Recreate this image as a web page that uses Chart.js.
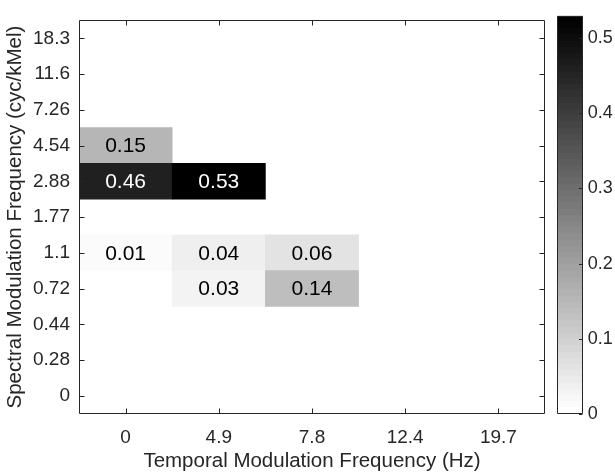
<!DOCTYPE html>
<html><head><meta charset="utf-8">
<script src="https://cdn.jsdelivr.net/npm/chart.js@4.4.1/dist/chart.umd.min.js"></script>
<style>
html,body{margin:0;padding:0;background:#fff;}
#wrap{position:relative;width:615px;height:474px;overflow:hidden;}
canvas{position:absolute;top:0;}
</style>
</head><body>
<div id="wrap">
<canvas id="main" width="615" height="474" style="left:0"></canvas>
<canvas id="cbar" width="70" height="474" style="left:545px"></canvas>
</div>
<script>
// ---- data ----
const xLabels = ['0', '4.9', '7.8', '12.4', '19.7'];
const yLabels = ['0', '0.28', '0.44', '0.72', '1.1', '1.77', '2.88', '4.54', '7.26', '11.6', '18.3']; // bottom to top
// one array per spectral row (bottom to top), one value per temporal column; null = empty cell
const row_0    = [null, null, null, null, null];
const row_0_28 = [null, null, null, null, null];
const row_0_44 = [null, null, null, null, null];
const row_0_72 = [null, 0.03, 0.14, null, null];
const row_1_1  = [0.01, 0.04, 0.06, null, null];
const row_1_77 = [null, null, null, null, null];
const row_2_88 = [0.46, 0.53, null, null, null];
const row_4_54 = [0.15, null, null, null, null];
const row_7_26 = [null, null, null, null, null];
const row_11_6 = [null, null, null, null, null];
const row_18_3 = [null, null, null, null, null];
const colorTicks = [0, 0.1, 0.2, 0.3, 0.4, 0.5];
const colorMax = 0.53;

const rows = [row_0, row_0_28, row_0_44, row_0_72, row_1_1, row_1_77, row_2_88, row_4_54, row_7_26, row_11_6, row_18_3];

const FONT = "'Liberation Sans', Arial, Helvetica, sans-serif";
const AX = '#262626';
const NLEV = 64;

function levelGray(k){ return Math.round(255 * (NLEV - 1 - k) / (NLEV - 1)); }
function grayIndex(v){ let k = Math.floor(v / colorMax * NLEV); return Math.max(0, Math.min(NLEV - 1, k)); }
function grayFor(v){ const g = levelGray(grayIndex(v)); return `rgb(${g},${g},${g})`; }

const datasets = rows.map((row, r) => ({
  data: row.map(v => v == null ? null : [r, r + 1]),
  backgroundColor: row.map(v => v == null ? 'rgba(0,0,0,0)' : grayFor(v)),
  values: row,
  borderWidth: 0
}));

const heatPlugin = {
  id: 'heat',
  afterDatasetsDraw(chart){
    const ctx = chart.ctx;
    ctx.save();
    ctx.font = `21px ${FONT}`;
    ctx.textAlign = 'center';
    ctx.textBaseline = 'middle';
    chart.data.datasets.forEach((ds, di) => {
      const meta = chart.getDatasetMeta(di);
      meta.data.forEach((el, i) => {
        const v = ds.values[i];
        if (v == null) return;
        const p = el.getProps(['x', 'y', 'base'], true);
        const g = levelGray(grayIndex(v));
        ctx.fillStyle = g < 128 ? '#ffffff' : '#000000';
        ctx.fillText(v.toFixed(2), p.x, (p.y + p.base) / 2 + 1);
      });
    });
    ctx.restore();
  },
  afterDraw(chart){
    const ctx = chart.ctx, ca = chart.chartArea;
    const xs = chart.scales.x, ys = chart.scales.y;
    ctx.save();
    ctx.strokeStyle = AX;
    ctx.lineWidth = 1;
    const L = Math.round(ca.left) + 0.5, R = Math.round(ca.right) - 0.5;
    const T = Math.round(ca.top) + 0.5, B = Math.round(ca.bottom) - 0.5;
    ctx.beginPath();
    ctx.rect(L, T, R - L, B - T);
    const tl = 5;
    xLabels.forEach((_, i) => {
      const x = Math.round(xs.getPixelForTick(i)) + 0.5;
      ctx.moveTo(x, B); ctx.lineTo(x, B - tl);
      ctx.moveTo(x, T); ctx.lineTo(x, T + tl);
    });
    yLabels.forEach((_, i) => {
      const y = Math.round(ys.getPixelForValue(i + 0.5)) + 0.5;
      ctx.moveTo(L, y); ctx.lineTo(L + tl, y);
      ctx.moveTo(R, y); ctx.lineTo(R - tl, y);
    });
    ctx.stroke();
    ctx.restore();
  }
};

new Chart(document.getElementById('main'), {
  type: 'bar',
  data: { labels: xLabels, datasets },
  plugins: [heatPlugin],
  options: {
    responsive: false, animation: false, devicePixelRatio: 1,
    layout: { padding: { top: 9, right: 70, left: 0, bottom: 0 } },
    datasets: { bar: { grouped: false, barPercentage: 1, categoryPercentage: 1 } },
    plugins: { legend: { display: false }, tooltip: { enabled: false } },
    scales: {
      x: {
        type: 'category', offset: true,
        grid: { display: false, drawTicks: false }, border: { display: false },
        ticks: { padding: 12.5, color: AX, font: { family: FONT, size: 19 }, maxRotation: 0, autoSkip: false },
        title: { display: true, text: 'Temporal Modulation Frequency (Hz)', color: AX,
                 font: { family: FONT, size: 20.5 }, padding: { top: 0, bottom: 0 } },
        afterFit: s => { s.height = 60.3; }
      },
      y: {
        type: 'linear', min: 0, max: yLabels.length,
        afterBuildTicks: s => { s.ticks = yLabels.map((l, i) => ({ value: i + 0.5 })); },
        grid: { display: false, drawTicks: false }, border: { display: false },
        ticks: { padding: 9, color: AX, font: { family: FONT, size: 19 }, autoSkip: false,
                 callback: v => yLabels[Math.floor(v)] },
        title: { display: true, text: 'Spectral Modulation Frequency (cyc/kMel)', color: AX,
                 font: { family: FONT, size: 20.5 }, padding: { top: 3.5, bottom: 0 } },
        afterFit: s => { s.width = 79; }
      }
    }
  }
});

// ---- colorbar ----
const cbarPlugin = {
  id: 'cbarFrame',
  afterDraw(chart){
    const ctx = chart.ctx, ca = chart.chartArea, ys = chart.scales.y;
    ctx.save();
    ctx.strokeStyle = AX; ctx.lineWidth = 1;
    const L = Math.round(ca.left) + 0.5, R = Math.round(ca.right) - 0.5;
    const T = Math.round(ca.top) + 0.5, B = Math.round(ca.bottom) - 0.5;
    ctx.beginPath();
    ctx.rect(L, T, R - L, B - T);
    colorTicks.forEach(v => {
      const y = Math.round(ys.getPixelForValue(v)) + 0.5;
      ctx.moveTo(R, y); ctx.lineTo(R - 3.5, y);
    });
    ctx.stroke();
    ctx.restore();
  }
};

function cbarFill(context){
  const chart = context.chart;
  const ys = chart.scales.y;
  if (!chart.chartArea || !ys) return '#888';
  const y0 = ys.getPixelForValue(0), y1 = ys.getPixelForValue(colorMax);
  const grad = chart.ctx.createLinearGradient(0, y0, 0, y1);
  for (let k = 0; k < NLEV; k++) {
    const g = levelGray(k), c = `rgb(${g},${g},${g})`;
    grad.addColorStop(k / NLEV, c);
    grad.addColorStop(Math.min(1, (k + 1) / NLEV - 1e-6), c);
  }
  return grad;
}

new Chart(document.getElementById('cbar'), {
  type: 'bar',
  data: { labels: [''], datasets: [{ data: [[0, colorMax]], backgroundColor: cbarFill, borderWidth: 0 }] },
  plugins: [cbarPlugin],
  options: {
    responsive: false, animation: false, devicePixelRatio: 1,
    layout: { padding: { top: 9, left: 12.3, right: 0, bottom: 60.3 } },
    datasets: { bar: { barPercentage: 1, categoryPercentage: 1 } },
    plugins: { legend: { display: false }, tooltip: { enabled: false } },
    scales: {
      x: { display: false, offset: true },
      y: {
        position: 'right', min: 0, max: colorMax,
        afterBuildTicks: s => { s.ticks = colorTicks.map(v => ({ value: v })); },
        grid: { display: false, drawTicks: false }, border: { display: false },
        ticks: { padding: 5, color: AX, font: { family: FONT, size: 18 }, autoSkip: false,
                 callback: v => String(v) },
        afterFit: s => { s.width = 32.3; }
      }
    }
  }
});
</script>
</body></html>
